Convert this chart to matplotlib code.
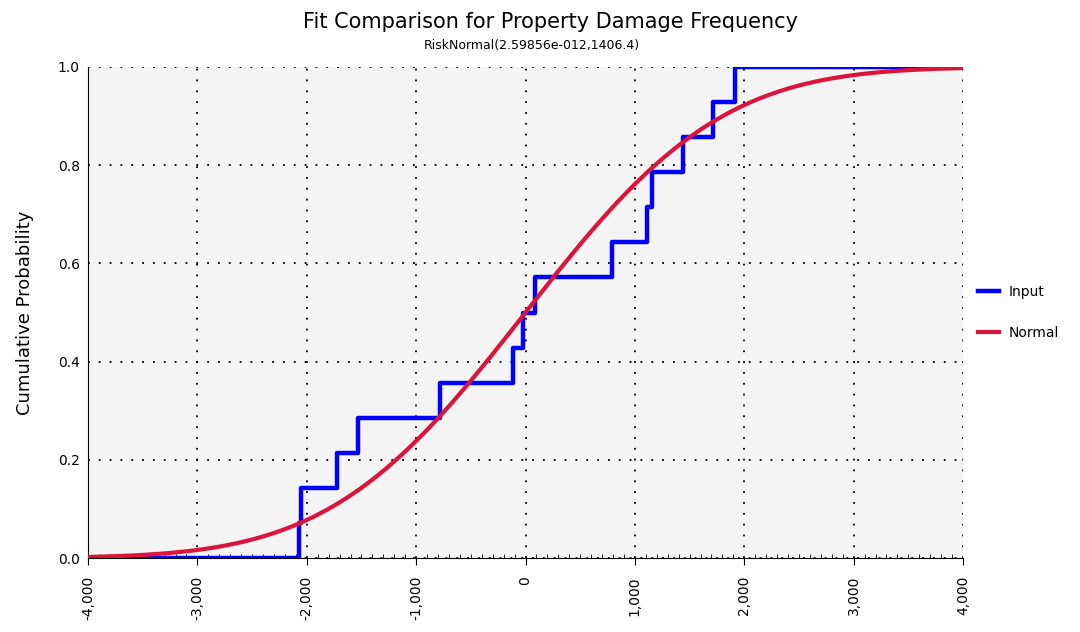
import math
import numpy as np
import matplotlib
matplotlib.use("Agg")
import matplotlib.pyplot as plt
from matplotlib.ticker import MultipleLocator, FuncFormatter

# input sample
input_values = [-2070, -2055, -1723, -1531, -781, -114, -23, 87,
                790, 1110, 1156, 1440, 1714, 1915]
# fitted normal, from the subtitle
fit_mu = 2.59856e-012
fit_sigma = 1406.4
x_min, x_max = -4000, 4000

xs = np.sort(np.array(input_values, dtype=float))
n = len(xs)
step_x = np.concatenate([[x_min], xs, [x_max]])
step_y = np.concatenate([[0.0], np.arange(1, n + 1) / n, [1.0]])

curve_x = np.linspace(x_min, x_max, 400)
curve_y = np.array([0.5 * (1 + math.erf((v - fit_mu) / (fit_sigma * math.sqrt(2)))) for v in curve_x])

fig = plt.figure(figsize=(10.8, 6.32), dpi=100)
ax = fig.add_axes([0.0815, 0.117, 0.8102, 0.777])
ax.set_facecolor("#f4f4f4")

ax.step(step_x, step_y, where="post", color="#0000ff", lw=3.2, label="Input", zorder=3)
ax.plot(curve_x, curve_y, color="#dc143c", lw=3.0, label="Normal", zorder=4)

ax.set_xlim(x_min, x_max)
ax.set_ylim(0, 1)
ax.xaxis.set_major_locator(MultipleLocator(1000))
ax.xaxis.set_minor_locator(MultipleLocator(100))
ax.yaxis.set_major_locator(MultipleLocator(0.2))
ax.xaxis.set_major_formatter(FuncFormatter(lambda v, p: "{:,.0f}".format(v)))
ax.yaxis.set_major_formatter(FuncFormatter(lambda v, p: "{:.1f}".format(v)))
ax.grid(True, which="major", color="black", linestyle=(0, (1, 5)), lw=1.3)

for s in ["top", "right"]:
    ax.spines[s].set_visible(False)
ax.spines["left"].set_color("black")
ax.spines["bottom"].set_color("black")
ax.tick_params(axis="x", which="major", direction="out", length=5, labelsize=10, rotation=90, pad=8)
ax.tick_params(axis="x", which="minor", direction="in", length=3)
ax.tick_params(axis="y", which="major", direction="out", length=0, labelsize=10, pad=6)

ax.set_ylabel("Cumulative Probability", fontsize=13, labelpad=17)
fig.text(0.51, 0.965, "Fit Comparison for Property Damage Frequency", ha="center", va="center", fontsize=15)
fig.text(0.492, 0.928, "RiskNormal(2.59856e-012,1406.4)", ha="center", va="center", fontsize=9)

ax.legend(loc="center left", bbox_to_anchor=(1.003, 0.50), frameon=False, fontsize=10,
          handlelength=1.5, handletextpad=0.7, labelspacing=1.9)

fig.savefig("out.png", dpi=100)
